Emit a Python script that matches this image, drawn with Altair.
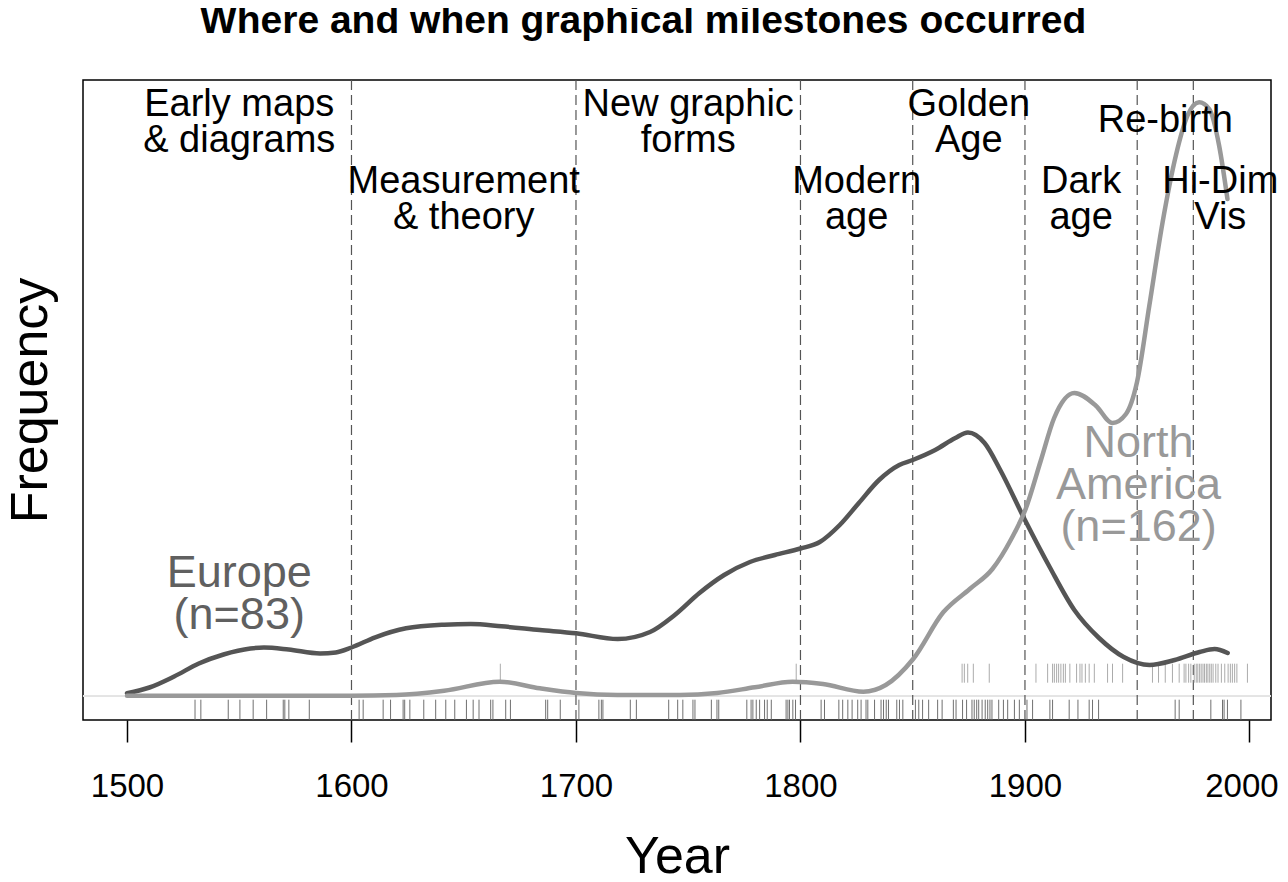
import altair as alt
import pandas as pd

# ---- density curves (frequency in arbitrary units) ----
eu_year = [1500, 1510, 1521, 1532, 1543, 1555, 1561, 1572, 1586, 1593,
           1600, 1610.6, 1624.3, 1641.3, 1653.2, 1666.8, 1683.9, 1700.1, 1718.6, 1733,
           1744, 1755, 1766, 1777.5, 1788.6, 1800, 1808.6, 1817.5, 1826, 1835,
           1844, 1850, 1860, 1869, 1874.6, 1882, 1889, 1900, 1911, 1922,
           1933, 1944, 1955.5, 1966.7, 1977.8, 1984.5, 1990.3]
eu_freq = [2.7, 8.5, 19.5, 32.5, 41.5, 47.5, 48.5, 46.5, 42.5, 43.5,
           48.5, 58.7, 67.7, 71.3, 72, 69.7, 66, 62.7, 57, 64,
           81, 103, 121, 134, 141, 147.5, 154, 171, 193, 216,
           231, 236, 246, 258, 263.5, 253, 226, 176, 129, 86,
           58, 39, 31, 36, 44, 47, 43]

na_year = [1500, 1550, 1600, 1620, 1641.3, 1666, 1683.9, 1700, 1718.4, 1746.2,
           1762.9, 1779.7, 1796.5, 1810, 1828, 1838, 1850.2, 1863.6, 1875.4, 1885.5,
           1893.9, 1900.3, 1907, 1913, 1922, 1931.6, 1939, 1945, 1949.9, 1955.4,
           1961.3, 1967.2, 1972.4, 1977.6, 1982.1, 1986.5, 1990.2]
na_freq = [0.3, 0.3, 0.3, 1, 5.3, 14.3, 7.7, 3, 1, 1,
           3, 8.7, 14.3, 12, 4.3, 11, 37, 83.7, 107, 127,
           157, 187, 235, 278, 303, 290.3, 273, 282, 313.7, 390.3,
           473.7, 540.3, 580.3, 593.7, 587, 550.3, 497]

# ---- rug: years of individual milestones ----
eu_rug = [1530.3, 1532.9, 1545.1, 1550.3, 1556.2, 1562.2, 1569.6, 1570.3, 1572.1, 1581.2,
          1603.4, 1605.2, 1614.1, 1617.4, 1623.0, 1623.7, 1626.0, 1632.2, 1637.5, 1642.0,
          1646.0, 1651.2, 1654.2, 1656.8, 1662.0, 1663.0, 1668.7, 1670.8, 1686.5, 1687.4,
          1693.0, 1701.3, 1710.2, 1711.3, 1712.0, 1724.2, 1726.9, 1741.3, 1745.3, 1747.6,
          1752.1, 1753.0, 1760.3, 1762.8, 1763.6, 1776.1, 1778.0, 1778.8, 1780.3, 1781.8,
          1784.0, 1785.2, 1787.0, 1793.6, 1794.4, 1795.1, 1796.6, 1797.8, 1809.2, 1810.7,
          1817.1, 1818.8, 1821.1, 1823.0, 1825.5, 1827.0, 1829.2, 1830.0, 1833.0, 1835.9,
          1837.0, 1838.2, 1839.2, 1842.9, 1844.1, 1845.6, 1851.2, 1852.7, 1854.4, 1857.1,
          1861.1, 1863.1, 1868.1, 1869.3, 1872.2, 1874.0, 1876.4, 1877.4, 1878.5, 1879.4,
          1880.9, 1882.3, 1883.4, 1884.4, 1885.3, 1888.3, 1890.4, 1892.3, 1895.3, 1897.5,
          1900.9, 1903.4, 1911.1, 1912.3, 1919.7, 1923.6, 1928.6, 1930.1, 1932.8, 1966.9,
          1968.7, 1982.8, 1988.0, 1988.7, 1990.2, 1996.2]
na_rug = [1666.3, 1798.1, 1872.0, 1873.0, 1874.5, 1877.0, 1884.1, 1904.9, 1910.1, 1912.3,
          1913.1, 1914.1, 1915.0, 1916.0, 1917.1, 1918.0, 1920.0, 1923.0, 1924.5, 1925.4,
          1926.9, 1928.6, 1930.9, 1936.8, 1939.0, 1943.5, 1956.8, 1959.5, 1962.5, 1965.7,
          1968.7, 1970.9, 1971.7, 1972.9, 1973.9, 1975.4, 1976.3, 1977.0, 1977.8, 1978.5,
          1979.3, 1980.0, 1980.8, 1981.5, 1982.3, 1983.0, 1983.8, 1985.0, 1986.0, 1987.5,
          1989.0, 1990.5, 1991.5, 1992.4, 1993.4, 1994.4, 1999.1]

# ---- periods ----
period_breaks = [1600, 1700, 1800, 1850, 1900, 1950, 1975]
upper_labels = ["Early maps\n& diagrams", "New graphic\nforms", "Golden\nAge"]
upper_mid = [1550, 1750, 1875]
single_labels = ["Re-birth"]
single_mid = [1962.5]
lower_labels = ["Measurement\n& theory", "Modern\nage", "Dark\nage", "Hi-Dim\nVis"]
lower_mid = [1650, 1825, 1925, 1987]
x_ticks = [1500, 1600, 1700, 1800, 1900, 2000]
title_text = ["Where and when graphical milestones occurred"]

FONT = "Liberation Sans"

eu_df = pd.DataFrame({"year": eu_year, "freq": eu_freq})
na_df = pd.DataFrame({"year": na_year, "freq": na_freq})
eu_rug_df = pd.DataFrame({"year": eu_rug})
na_rug_df = pd.DataFrame({"year": na_rug})
brk_df = pd.DataFrame({"year": period_breaks})
up_df = pd.DataFrame({"year": upper_mid, "label": upper_labels})
sg_df = pd.DataFrame({"year": single_mid, "label": single_labels})
lo_df = pd.DataFrame({"year": lower_mid, "label": lower_labels})
eu_lab = pd.DataFrame({"year": [1550], "label": ["Europe\n(n=83)"]})
na_lab = pd.DataFrame({"year": [1950.6], "label": ["North\nAmerica\n(n=162)"]})
title_df = pd.DataFrame({"label": title_text})

xscale = alt.Scale(domain=[1480.4, 2009.6], nice=False, zero=False)
yscale = alt.Scale(domain=[-24, 616], nice=False, zero=False)

xaxis = alt.Axis(values=x_ticks, format="d", tickSize=22, tickWidth=1.5, tickColor="black",
                 labelFontSize=33, labelPadding=28, labelColor="black", labelFont=FONT,
                 labelOffset={"condition": {"test": "datum.value == 2000", "value": -8}, "value": 0},
                 domain=False, grid=False, title="Year", titleFontSize=52,
                 titleFontWeight="normal", titleFont=FONT, titleColor="black", titlePadding=28)
yaxis = alt.Axis(ticks=False, labels=False, domain=False, grid=False, title="Frequency",
                 titleFontSize=52, titleFontWeight="normal", titleFont=FONT,
                 titleColor="black", titlePadding=26)

X = alt.X("year:Q", scale=xscale, axis=xaxis)
Y = alt.Y("freq:Q", scale=yscale, axis=yaxis)

zero_line = alt.Chart(eu_df).mark_rule(color="#e4e4e4", strokeWidth=1).encode(
    y=alt.datum(0, scale=yscale, axis=yaxis))

dashes = alt.Chart(brk_df).mark_rule(color="#555555", strokeWidth=1.2, strokeDash=[10, 5]).encode(
    x=alt.X("year:Q", scale=xscale, axis=xaxis))

eu_rug_m = alt.Chart(eu_rug_df).mark_rule(color="#707070", strokeWidth=1).encode(
    x=alt.X("year:Q", scale=xscale, axis=xaxis),
    y=alt.datum(-3.7, scale=yscale, axis=yaxis), y2=alt.datum(-23.7))
na_rug_m = alt.Chart(na_rug_df).mark_rule(color="#ababab", strokeWidth=1).encode(
    x=alt.X("year:Q", scale=xscale, axis=xaxis),
    y=alt.datum(32.3, scale=yscale, axis=yaxis), y2=alt.datum(13.3))

eu_line = alt.Chart(eu_df).mark_line(color="#555555", strokeWidth=4.5, interpolate="monotone",
                                     strokeCap="round").encode(x=X, y=Y)
na_line = alt.Chart(na_df).mark_line(color="#999999", strokeWidth=4.5, interpolate="monotone",
                                     strokeCap="round").encode(x=X, y=Y)

txt = dict(lineBreak="\n", align="center", baseline="middle", font=FONT)
up_t = alt.Chart(up_df).mark_text(fontSize=38, lineHeight=36, color="black", **txt).encode(
    x=alt.X("year:Q", scale=xscale, axis=xaxis), y=alt.datum(591, scale=yscale, axis=yaxis),
    text="label:N")
sg_t = alt.Chart(sg_df).mark_text(fontSize=38, lineHeight=36, color="black", **txt).encode(
    x=alt.X("year:Q", scale=xscale, axis=xaxis), y=alt.datum(575, scale=yscale, axis=yaxis),
    text="label:N")
lo_t = alt.Chart(lo_df).mark_text(fontSize=38, lineHeight=36, color="black", **txt).encode(
    x=alt.X("year:Q", scale=xscale, axis=xaxis), y=alt.datum(514, scale=yscale, axis=yaxis),
    text="label:N")
eu_t = alt.Chart(eu_lab).mark_text(fontSize=45, lineHeight=42, color="#606060", **txt).encode(
    x=alt.X("year:Q", scale=xscale, axis=xaxis), y=alt.datum(123, scale=yscale, axis=yaxis),
    text="label:N")
na_t = alt.Chart(na_lab).mark_text(fontSize=45, lineHeight=42, color="#999999", **txt).encode(
    x=alt.X("year:Q", scale=xscale, axis=xaxis), y=alt.datum(253, scale=yscale, axis=yaxis),
    text="label:N")
title_t = alt.Chart(title_df).mark_text(fontSize=39, fontWeight="bold", font=FONT, color="black",
                                         align="center", baseline="alphabetic").encode(
    x=alt.datum(1729.9, scale=xscale, axis=xaxis), y=alt.datum(663, scale=yscale, axis=yaxis),
    text="label:N")

chart = alt.layer(zero_line, dashes, eu_rug_m, na_rug_m, eu_line, na_line,
                  up_t, sg_t, lo_t, eu_t, na_t, title_t).properties(
    width=1188, height=640,
    autosize=alt.AutoSizeParams(type="none"),
    padding={"left": 75, "top": 72, "right": 9, "bottom": 154},
    background="white",
).configure_view(stroke="black", strokeWidth=1.5)

chart.save("out.html", embed_options={"renderer": "svg", "actions": False})
